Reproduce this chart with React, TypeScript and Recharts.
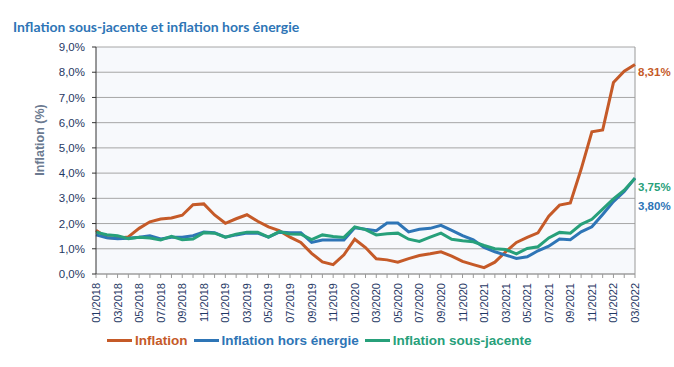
import React from 'react';
import { LineChart, Line, XAxis, YAxis, CartesianGrid, ReferenceLine, LabelList } from 'recharts';

const months = [
  '01/2018', '02/2018', '03/2018', '04/2018', '05/2018', '06/2018', '07/2018', '08/2018', '09/2018', '10/2018', '11/2018', '12/2018',
  '01/2019', '02/2019', '03/2019', '04/2019', '05/2019', '06/2019', '07/2019', '08/2019', '09/2019', '10/2019', '11/2019', '12/2019',
  '01/2020', '02/2020', '03/2020', '04/2020', '05/2020', '06/2020', '07/2020', '08/2020', '09/2020', '10/2020', '11/2020', '12/2020',
  '01/2021', '02/2021', '03/2021', '04/2021', '05/2021', '06/2021', '07/2021', '08/2021', '09/2021', '10/2021', '11/2021', '12/2021',
  '01/2022', '02/2022', '03/2022',
];

const inflation = [
  1.73, 1.45, 1.42, 1.47, 1.81, 2.07, 2.18, 2.22, 2.33, 2.75, 2.78, 2.34,
  2.01, 2.19, 2.35, 2.09, 1.87, 1.72, 1.46, 1.25, 0.82, 0.48, 0.37, 0.76,
  1.38, 1.05, 0.6, 0.56, 0.47, 0.61, 0.73, 0.8, 0.88, 0.71, 0.5, 0.37,
  0.25, 0.47, 0.88, 1.25, 1.45, 1.63, 2.29, 2.73, 2.82, 4.15, 5.64, 5.71,
  7.59, 8.04, 8.31,
];

const horsEnergie = [
  1.55, 1.44, 1.4, 1.42, 1.46, 1.52, 1.39, 1.46, 1.46, 1.52, 1.66, 1.64,
  1.46, 1.55, 1.62, 1.62, 1.46, 1.66, 1.64, 1.64, 1.25, 1.35, 1.35, 1.35,
  1.83, 1.77, 1.72, 2.02, 2.02, 1.67, 1.77, 1.81, 1.93, 1.73, 1.52, 1.35,
  1.05, 0.88, 0.75, 0.62, 0.68, 0.92, 1.1, 1.39, 1.36, 1.67, 1.87, 2.36,
  2.87, 3.27, 3.8,
];

const sousJacente = [
  1.66, 1.56, 1.52, 1.4, 1.46, 1.43, 1.35, 1.49, 1.36, 1.39, 1.64, 1.62,
  1.46, 1.58, 1.66, 1.66, 1.46, 1.68, 1.59, 1.58, 1.36, 1.55, 1.49, 1.45,
  1.87, 1.76, 1.55, 1.6, 1.62, 1.38, 1.29, 1.46, 1.62, 1.38, 1.32, 1.28,
  1.13, 1.0, 0.97, 0.8, 1.01, 1.08, 1.43, 1.65, 1.62, 1.97, 2.17, 2.57,
  2.98, 3.32, 3.8,
];

const endLabels = ['8,31%', '3,80%', '3,75%'];
const yTicks = [0, 1, 2, 3, 4, 5, 6, 7, 8, 9];
const legendNames = ['Inflation', 'Inflation hors énergie', 'Inflation sous-jacente'];

const data = months.map((m, i) => ({
  month: m,
  inflation: inflation[i],
  horsEnergie: horsEnergie[i],
  sousJacente: sousJacente[i],
}));

const ORANGE = '#C55A28';
const BLUE = '#2E75B6';
const GREEN = '#27A07A';
const NAVY = '#1F3864';
const FONT = '"Liberation Sans", Arial, sans-serif';

const fmtY = (v: number) => v.toFixed(1).replace('.', ',') + '%';

const XTick = (props: any) => {
  const { x, y, payload } = props;
  const idx = months.indexOf(payload.value);
  if (idx % 2 === 1) return null;
  return (
    <text
      x={x + 4}
      y={y + 3}
      transform={`rotate(-90, ${x + 4}, ${y + 3})`}
      textAnchor="end"
      fill={NAVY}
      fontSize={11}
      fontFamily={FONT}
    >
      {payload.value}
    </text>
  );
};

const makeEndLabel = (text: string, color: string, dy: number) => (props: any) => {
  const { x, y, index } = props;
  if (index !== months.length - 1) return null;
  return (
    <text
      x={x + 3}
      y={y + dy}
      fill={color}
      fontSize={11.5}
      fontWeight="bold"
      fontFamily={FONT}
      dominantBaseline="middle"
    >
      {text}
    </text>
  );
};

const YLabel = () => (
  <text
    x={44}
    y={140}
    transform="rotate(-90, 44, 140)"
    textAnchor="middle"
    fill="#6B7A90"
    fontSize={12.5}
    fontWeight="bold"
    fontFamily={FONT}
  >
    Inflation (%)
  </text>
);

const LegendItem = ({ color, name, gap }: { color: string; name: string; gap: number }) => (
  <div style={{ display: 'flex', alignItems: 'center', marginRight: gap }}>
    <div style={{ width: 25, height: 3, background: color, marginRight: 3 }} />
    <span style={{ color, fontSize: 13.5, fontWeight: 'bold', fontFamily: FONT }}>{name}</span>
  </div>
);

export default function App() {
  return (
    <div style={{ position: 'absolute', left: 0, top: 0, width: 674, height: 367, background: '#fff' }}>
      <div
        style={{
          position: 'absolute',
          left: 13,
          top: 18,
          color: BLUE,
          fontSize: 14,
          fontWeight: 'bold',
          fontFamily: 'Lato, sans-serif',
          whiteSpace: 'nowrap',
        }}
      >
        Inflation sous-jacente et inflation hors énergie
      </div>
      <LineChart width={674} height={367} data={data} margin={{ top: 47, right: 39, left: 0, bottom: 0 }}>
        <CartesianGrid vertical={false} stroke="#A6A6A6" fill="#F7F9FC" />
        <XAxis
          dataKey="month"
          interval={0}
          tick={<XTick />}
          tickSize={4}
          tickLine={{ stroke: '#999' }}
          axisLine={{ stroke: '#999' }}
          height={93}
        />
        <YAxis
          domain={[0, 9]}
          ticks={yTicks}
          tickFormatter={fmtY}
          width={96}
          tickSize={4}
          tickMargin={7}
          tick={{ fill: NAVY, fontSize: 11.5, fontFamily: FONT }}
          axisLine={{ stroke: '#333' }}
          tickLine={{ stroke: '#333' }}
          label={{ value: 'Inflation (%)', content: () => <YLabel /> }}
        />
        <ReferenceLine x={months[months.length - 1]} stroke="#999" />
        <Line dataKey="inflation" stroke={ORANGE} strokeWidth={3} dot={false} isAnimationActive={false}>
          <LabelList dataKey="inflation" content={makeEndLabel(endLabels[0], ORANGE, 9)} />
        </Line>
        <Line dataKey="horsEnergie" stroke={BLUE} strokeWidth={3} dot={false} isAnimationActive={false}>
          <LabelList dataKey="horsEnergie" content={makeEndLabel(endLabels[1], BLUE, 29)} />
        </Line>
        <Line dataKey="sousJacente" stroke={GREEN} strokeWidth={3} dot={false} isAnimationActive={false}>
          <LabelList dataKey="sousJacente" content={makeEndLabel(endLabels[2], GREEN, 10)} />
        </Line>
      </LineChart>
      <div style={{ position: 'absolute', left: 107, top: 333, display: 'flex', alignItems: 'center' }}>
        <LegendItem color={ORANGE} name={legendNames[0]} gap={6} />
        <LegendItem color={BLUE} name={legendNames[1]} gap={6} />
        <LegendItem color={GREEN} name={legendNames[2]} gap={0} />
      </div>
    </div>
  );
}
